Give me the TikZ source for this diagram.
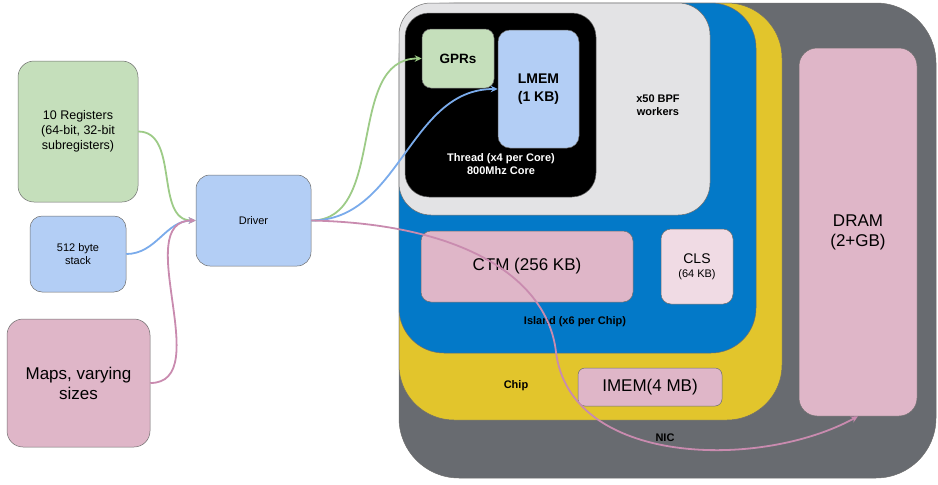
\documentclass[tikz,border=0pt]{standalone}
\usepackage{fontspec}
\setmainfont{Liberation Sans}
\usetikzlibrary{arrows.meta, calc, positioning}
\definecolor{nicgray}{HTML}{686B70}
\definecolor{chipyellow}{HTML}{E2C52C}
\definecolor{islandblue}{HTML}{0379C8}
\definecolor{bpfgray}{HTML}{E3E3E5}
\definecolor{regfill}{HTML}{C5DFBB}
\definecolor{memfill}{HTML}{B3CEF5}
\definecolor{mapfill}{HTML}{DFB6C8}
\definecolor{clsfill}{HTML}{F0DBE4}
\definecolor{edgegray}{HTML}{6E6E6E}
\definecolor{reglink}{HTML}{9DCB87}
\definecolor{memlink}{HTML}{7AABEB}
\definecolor{maplink}{HTML}{C98BAF}

\begin{document}
\begin{tikzpicture}[x=1pt, y=-1pt,
    box/.style={draw=edgegray, line width=0.5pt, inner sep=0pt, align=center},
    lbl/.style={font=\fontsize{11}{13}\selectfont\bfseries, align=center},
    link/.style={line width=1.8pt, -{Stealth[length=7pt,width=6.5pt]}}]
    \useasboundingbox (0,0) rectangle (938,485);

    % nested hardware blocks
    \node[box, fill=nicgray, rounded corners=60pt, minimum width=537, minimum height=475] (nic) at (667.5,240.5) {};
    \node[box, fill=chipyellow, rounded corners=55pt, minimum width=383, minimum height=417] (chip) at (590.5,211.5) {};
    \node[box, fill=islandblue, rounded corners=45pt, minimum width=357, minimum height=350] (island) at (577.5,178) {};
    \node[box, fill=bpfgray, rounded corners=32pt, minimum width=311, minimum height=212] (bpf) at (554.5,109) {};
    \node[box, fill=black, rounded corners=24pt, minimum width=191, minimum height=184] (thread) at (500.5,105) {};

    % thread contents
    \node[box, fill=regfill, rounded corners=9pt, minimum width=72, minimum height=59,
          font=\fontsize{13.5}{16}\selectfont\bfseries] (gprs) at (458,58.5) {GPRs};
    \node[box, fill=memfill, rounded corners=12pt, minimum width=81, minimum height=118,
          font=\fontsize{14}{18}\selectfont\bfseries] (lmem) at (538.5,89) {LMEM\\(1 KB)};
    \node[lbl, text=white] (threadlbl) at (501,164) {Thread (x4 per Core)\\800Mhz Core};
    \node[lbl] (bpflbl) at (658,105) {x50 BPF\\workers};

    % island memories
    \node[box, fill=mapfill, rounded corners=10pt, minimum width=212, minimum height=71,
          font=\fontsize{17}{20}\selectfont] (ctm) at (527,266.5) {CTM (256 KB)};
    \node[box, fill=clsfill, rounded corners=10pt, minimum width=72, minimum height=75,
          font=\fontsize{14}{15}\selectfont] (cls) at (697,266.5) {CLS\\[-1pt]{\fontsize{11}{13}\selectfont (64 KB)}};
    \node[lbl] (islandlbl) at (575,322) {Island (x6 per Chip)};

    % chip and nic memories
    \node[lbl] (chiplbl) at (516,386) {Chip};
    \node[box, fill=mapfill, rounded corners=7pt, minimum width=144, minimum height=38,
          font=\fontsize{17}{20}\selectfont] (imem) at (650,387) {IMEM(4 MB)};
    \node[lbl] (niclbl) at (665,438) {NIC};
    \node[box, fill=mapfill, rounded corners=18pt, minimum width=118, minimum height=368,
          font=\fontsize{17}{20}\selectfont] (dram) at (858,232) {DRAM\\(2+GB)};

    % BPF program side
    \node[box, fill=regfill, rounded corners=16pt, minimum width=120, minimum height=141,
          font=\fontsize{12.5}{15}\selectfont] (regs) at (78,131.5) {10 Registers\\(64-bit, 32-bit\\subregisters)};
    \node[box, fill=memfill, rounded corners=12pt, minimum width=96, minimum height=76,
          font=\fontsize{11}{13}\selectfont] (stack) at (78,254) {512 byte\\stack};
    \node[box, fill=mapfill, rounded corners=16pt, minimum width=143, minimum height=128,
          font=\fontsize{17}{20}\selectfont] (maps) at (78.5,383) {Maps, varying\\sizes};
    \node[box, fill=memfill, rounded corners=14pt, minimum width=115, minimum height=91,
          font=\fontsize{11}{13}\selectfont] (driver) at (253.5,220.5) {Driver};

    % connectors
    \draw[link, reglink] (regs.east) to[out=0, in=180] (driver.west);
    \draw[link, memlink] (stack.east) to[out=0, in=180] (driver.west);
    \draw[link, maplink] (maps.east) to[out=0, in=180] (driver.west);
    \draw[link, reglink] (driver.east) to[out=0, in=180] (gprs.west);
    \draw[link, memlink] (driver.east) to[out=0, in=180] (lmem.west);
    \coordinate (mapbend) at (556,352);
    \draw[link, maplink] (driver.east) .. controls (470,224) and (548,282) .. (mapbend)
        .. controls (570,466) and (760,470) .. (dram.south);
\end{tikzpicture}
\end{document}
